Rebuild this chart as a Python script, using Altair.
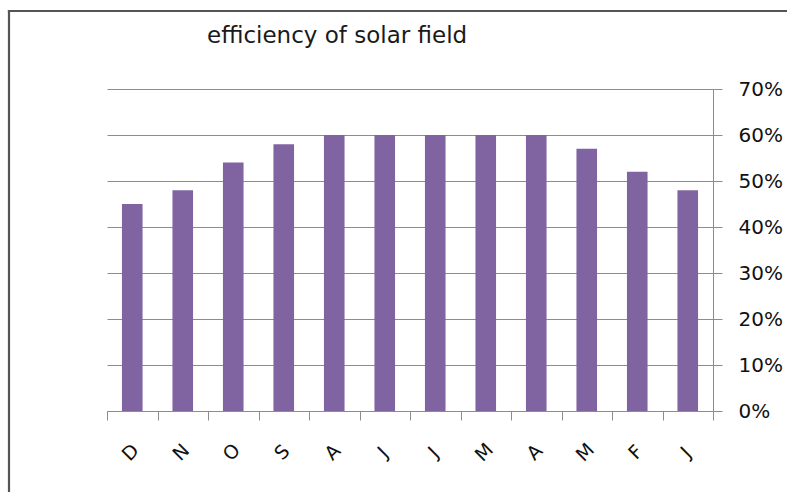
import altair as alt
import pandas as pd

# Monthly solar-field efficiency, listed from December back to January
months = ["D", "N", "O", "S", "A", "J", "J", "M", "A", "M", "F", "J"]
efficiency = [0.45, 0.48, 0.54, 0.58, 0.60, 0.60, 0.60, 0.60, 0.60, 0.57, 0.52, 0.48]
y_ticks = [0.0, 0.1, 0.2, 0.3, 0.4, 0.5, 0.6, 0.7]
title_text = "efficiency of solar field"

# month letters repeat, so each bar gets its own slot key
df = pd.DataFrame({
    "slot": list(range(len(months))),
    "month": months,
    "efficiency": efficiency,
})

FONT = "DejaVu Sans"
GRID = "#8c8c8c"
BORDER = "#555555"
letters_expr = "[" + ",".join(f"'{m}'" for m in months) + "][datum.value]"

bars = alt.Chart(df).mark_bar(
    color="#8064A2",
    width=alt.RelativeBandSize(0.408),
).encode(
    x=alt.X(
        "slot:O",
        sort=None,
        scale=alt.Scale(paddingInner=0, paddingOuter=0),
        axis=alt.Axis(
            title=None,
            labelExpr=letters_expr,
            labelAngle=-45,
            labelAlign="center",
            labelBaseline="middle",
            labelPadding=32,
            labelOffset=-2,
            labelFont=FONT,
            labelFontSize=19,
            labelColor="#111111",
            tickBand="extent",
            tickSize=9,
            tickColor=GRID,
            domainColor=GRID,
            grid=False,
        ),
    ),
    y=alt.Y(
        "efficiency:Q",
        scale=alt.Scale(domain=[0, 0.7], nice=False),
        axis=alt.Axis(
            title=None,
            orient="right",
            values=y_ticks,
            format=".0%",
            labelFont=FONT,
            labelFontSize=20,
            labelColor="#111111",
            labelPadding=16,
            tickSize=9,
            tickColor=GRID,
            domainColor=GRID,
            grid=True,
            gridColor=GRID,
        ),
    ),
)

one = pd.DataFrame({"k": [0]})

# outer chart border: a thin filled band along the top, a rule down the left
border_top = alt.Chart(one).mark_rect(
    color=BORDER, strokeWidth=0
).encode(
    x=alt.value(-99.1), x2=alt.value(680),
    y=alt.value(-79.1), y2=alt.value(-76.9),
)

border_left = alt.Chart(one).mark_rule(
    color=BORDER, strokeWidth=2.2
).encode(x=alt.value(-98), y=alt.value(-79), y2=alt.value(403))

title = alt.Chart(one).mark_text(
    text=title_text, align="left", baseline="alphabetic",
    font=FONT, fontSize=23, color="#1a1a1a",
).encode(x=alt.value(100), y=alt.value(-46))

chart = alt.layer(border_top, border_left, bars, title).properties(
    width=606,
    height=322,
    padding={"left": 107, "top": 89, "right": 81, "bottom": 81},
    autosize=alt.AutoSizeParams(type="none"),
    background="white",
).configure_view(strokeWidth=0)

chart.save("out.html", embed_options={"renderer": "svg", "actions": False})
